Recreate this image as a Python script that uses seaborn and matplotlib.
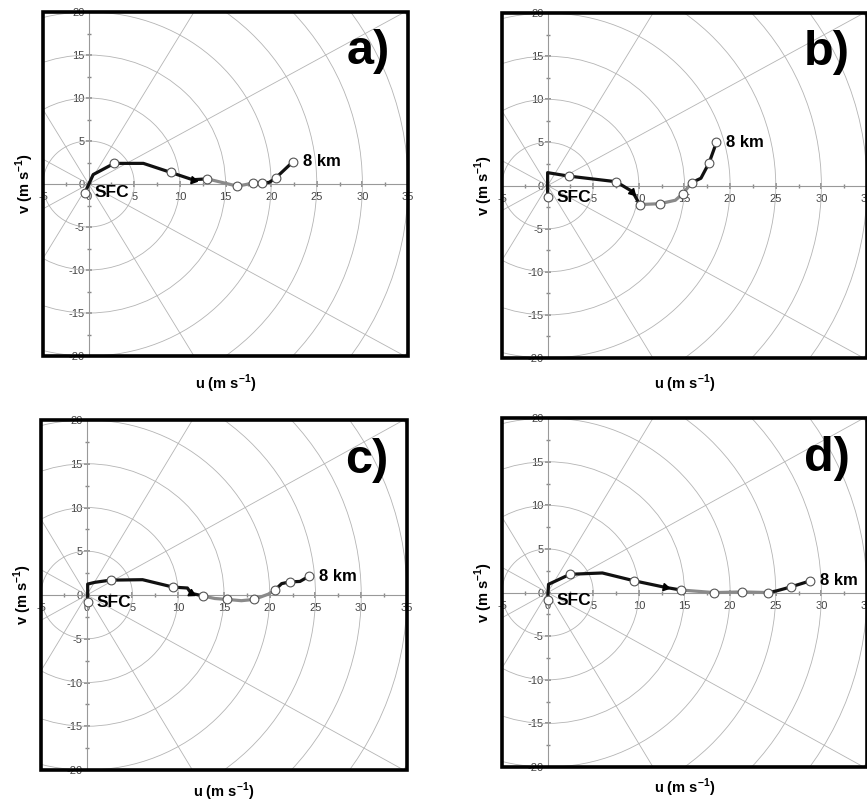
import numpy as np
import pandas as pd
import matplotlib
matplotlib.use("Agg")
import matplotlib.pyplot as plt
import seaborn as sns
from matplotlib.patches import Circle, Rectangle
from matplotlib.ticker import MultipleLocator

# hodograph winds (m/s), surface to 8 km
u_a = [-0.4, 0.5, 2.8, 6.0, 9.0, 11.4, 13.0, 16.3, 18.0, 19.0, 19.8, 20.5, 22.4]
v_a = [-1.0, 1.1, 2.4, 2.4, 1.35, 0.5, 0.6, -0.25, 0.1, 0.1, 0.2, 0.7, 2.6]
rings_a = [0, 2, 4, 6, 7, 8, 9, 11, 12]
arrow_a = 5
gray_a = (6, 9)

u_b = [0.0, 0.0, 2.3, 7.5, 9.3, 10.1, 12.3, 14.0, 14.8, 15.8, 16.8, 17.7, 18.5]
v_b = [-1.35, 1.5, 1.1, 0.45, -0.7, -2.2, -2.1, -1.7, -0.95, 0.35, 0.85, 2.65, 5.0]
rings_b = [0, 2, 3, 5, 6, 8, 9, 11, 12]
arrow_b = 4
gray_b = (5, 9)

u_c = [0.1, 0.1, 0.9, 2.6, 6.1, 9.45, 11.0, 11.4, 12.75, 14.0, 15.3, 16.9, 18.3,
       19.85, 20.6, 21.3, 22.2, 23.3, 24.3]
v_c = [-0.85, 1.25, 1.45, 1.7, 1.75, 0.9, 0.8, 0.2, -0.12, -0.4, -0.5, -0.65, -0.5,
       0.1, 0.6, 1.3, 1.5, 1.55, 2.15]
rings_c = [0, 3, 5, 8, 10, 12, 14, 16, 18]
arrow_c = 7
gray_c = (8, 14)

u_d = [0.0, 0.1, 2.45, 6.0, 9.5, 12.9, 14.6, 18.25, 21.35, 24.2, 25.1, 26.65, 28.8]
v_d = [-0.85, 0.95, 2.1, 2.25, 1.35, 0.6, 0.3, 0.0, 0.08, 0.0, 0.2, 0.65, 1.35]
rings_d = [0, 2, 4, 6, 7, 8, 9, 11, 12]
arrow_d = 5
gray_d = (6, 9)

letters = ["a)", "b)", "c)", "d)"]
x_ticks = list(range(-5, 40, 5))
y_ticks = list(range(-20, 25, 5))
ring_radii = [5, 10, 15, 20, 25, 30, 35, 40, 45]
spoke_angles = [30, 60, 120, 150]

sns.set_theme(style="white")
plt.rcParams["font.family"] = ["Liberation Sans", "DejaVu Sans"]
plt.rcParams["mathtext.fontset"] = "custom"
plt.rcParams["mathtext.rm"] = "Liberation Sans"
plt.rcParams["mathtext.bf"] = "Liberation Sans:bold"
plt.rcParams["axes.unicode_minus"] = False
plt.rcParams["text.color"] = "black"

grid_col = "#b4b4b4"
line_cols = {"black": "#111111", "gray": "#8a8a8a"}


def draw_panel(ax, letter, u, v, rings, arrow, gray):
    ax.set_xlim(-5, 35)
    ax.set_ylim(-20, 20)

    # polar grid
    for r in ring_radii:
        ax.add_patch(Circle((0, 0), r, fill=False, ec=grid_col, lw=0.6, zorder=1))
    for ang in spoke_angles:
        ax.axline((0, 0), slope=np.tan(np.radians(ang)), color=grid_col, lw=0.6, zorder=1)

    df = pd.DataFrame({"u": u, "v": v})
    n = len(df)
    g0, g1 = gray
    for i0, i1, part in [(0, g0, "black"), (g0, g1, "gray"), (g1, n - 1, "black")]:
        sns.lineplot(data=df.iloc[i0:i1 + 1], x="u", y="v", sort=False, estimator=None,
                     color=line_cols[part], linewidth=2.3, ax=ax, zorder=3)
    sns.scatterplot(data=df.iloc[rings], x="u", y="v", s=40, color="white",
                    edgecolor="#555555", linewidth=0.8, ax=ax, zorder=4)

    # direction arrow
    du = u[arrow + 1] - u[arrow - 1]
    dv = v[arrow + 1] - v[arrow - 1]
    theta = np.degrees(np.arctan2(dv, du))
    ax.plot(u[arrow], v[arrow], marker=(3, 0, theta - 90), ms=6, color="black", zorder=5)

    ax.set_xlabel("")
    ax.set_ylabel("")

    # axes through origin
    ax.spines["left"].set_position(("data", 0))
    ax.spines["bottom"].set_position(("data", 0))
    for s in ["left", "bottom"]:
        ax.spines[s].set_color("#999999")
        ax.spines[s].set_linewidth(0.8)
        ax.spines[s].set_zorder(2)
    ax.spines["top"].set_visible(False)
    ax.spines["right"].set_visible(False)
    ax.set_xticks(x_ticks)
    ax.set_yticks(y_ticks)
    ax.xaxis.set_minor_locator(MultipleLocator(2.5))
    ax.yaxis.set_minor_locator(MultipleLocator(2.5))
    ax.tick_params(which="both", direction="inout", color="#888888", bottom=True, left=True,
                   labelsize=8, labelcolor="#444444")
    ax.tick_params(which="major", length=4)
    ax.tick_params(which="minor", length=3)
    ax.tick_params(axis="x", pad=4)
    ax.tick_params(axis="y", pad=1)

    ax.add_patch(Rectangle((0, 0), 1, 1, transform=ax.transAxes, fill=False, ec="black",
                           lw=2.6, clip_on=False, zorder=6))

    ax.text(u[0] + 1.0, v[0], "SFC", fontsize=12.5, fontweight="bold", ha="left",
            va="center", zorder=5)
    ax.annotate("8 km", (u[-1], v[-1]), xytext=(7, 0), textcoords="offset points",
                fontsize=12, fontweight="bold", ha="left", va="center", zorder=5)
    ax.text(0.89, 0.885, letter, transform=ax.transAxes, fontsize=35, fontweight="bold",
            ha="center", va="center", color="black")
    ax.text(-0.05, 0.5, r"v (m s$^{\mathbf{-1}}$)", transform=ax.transAxes, rotation=90,
            fontsize=10.5, fontweight="bold", ha="center", va="center")


fig = plt.figure(figsize=(8.67, 8.02), dpi=100)
positions = [
    [0.0496, 0.5561, 0.421, 0.4289],
    [0.579, 0.5536, 0.421, 0.430],
    [0.0473, 0.0399, 0.4221, 0.4364],
    [0.579, 0.0436, 0.421, 0.435],
]
data = [
    (u_a, v_a, rings_a, arrow_a, gray_a),
    (u_b, v_b, rings_b, arrow_b, gray_b),
    (u_c, v_c, rings_c, arrow_c, gray_c),
    (u_d, v_d, rings_d, arrow_d, gray_d),
]
u_label_y = [-0.08, -0.075, -0.062, -0.06]

for k, pos in enumerate(positions):
    ax = fig.add_axes(pos)
    u, v, rings, arrow, gray = data[k]
    draw_panel(ax, letters[k], u, v, rings, arrow, gray)
    ax.text(0.5, u_label_y[k], r"u (m s$^{\mathbf{-1}}$)", transform=ax.transAxes,
            fontsize=10.5, fontweight="bold", ha="center", va="center")

fig.savefig("out.png", dpi=100)
